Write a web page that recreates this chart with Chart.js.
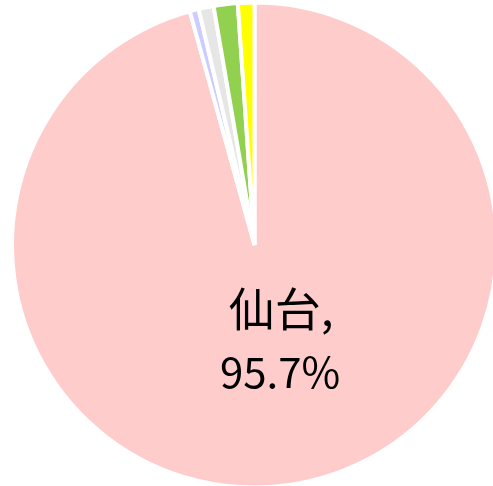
<!DOCTYPE html>
<html>
<head>
<meta charset="utf-8">
<script src="https://cdn.jsdelivr.net/npm/chart.js@4"></script>
<style>
  html, body { margin: 0; padding: 0; background: #ffffff; overflow: hidden; }
  #wrap { position: relative; width: 499px; height: 490px; }
</style>
</head>
<body>
<div id="wrap"><canvas id="c"></canvas></div>
<script>
const categories = ["仙台", "その他A", "その他B", "その他C", "その他D"];
const shares = [95.7, 0.6, 1.0, 1.6, 1.1];
const sliceColors = ["#FFCCCC", "#CCCCFF", "#E6E6E6", "#92D050", "#FFFF00"];
const labelText = ["仙台,", "95.7%"];

const labelPlugin = {
  id: 'sliceLabel',
  afterDatasetsDraw(chart) {
    const arc = chart.getDatasetMeta(0).data[0];
    const { x, y, startAngle, endAngle, outerRadius } = arc.getProps(['x', 'y', 'startAngle', 'endAngle', 'outerRadius'], true);
    const mid = (startAngle + endAngle) / 2;
    const r = outerRadius * 0.415;
    const cx = x + Math.cos(mid) * r + 12;
    const cy = y + Math.sin(mid) * r;
    const ctx = chart.ctx;
    ctx.save();
    ctx.fillStyle = '#000000';
    ctx.textAlign = 'center';
    ctx.textBaseline = 'alphabetic';
    ctx.font = '46px "Noto Sans CJK JP", "DejaVu Sans"';
    ctx.fillText(labelText[0], cx + 1, cy - 19);
    ctx.font = '42px "Noto Sans CJK JP", "Noto Sans"';
    ctx.fillText(labelText[1], cx, cy + 43);
    ctx.restore();
  }
};

new Chart(document.getElementById('c'), {
  type: 'pie',
  data: {
    labels: categories,
    datasets: [{
      data: shares,
      backgroundColor: sliceColors,
      borderColor: '#ffffff',
      borderWidth: 4
    }]
  },
  options: {
    responsive: true,
    maintainAspectRatio: false,
    animation: false,
    layout: { padding: { left: 10, top: 0, right: 0, bottom: 0 } },
    plugins: {
      legend: { display: false },
      tooltip: { enabled: false }
    }
  },
  plugins: [labelPlugin]
});
</script>
</body>
</html>
